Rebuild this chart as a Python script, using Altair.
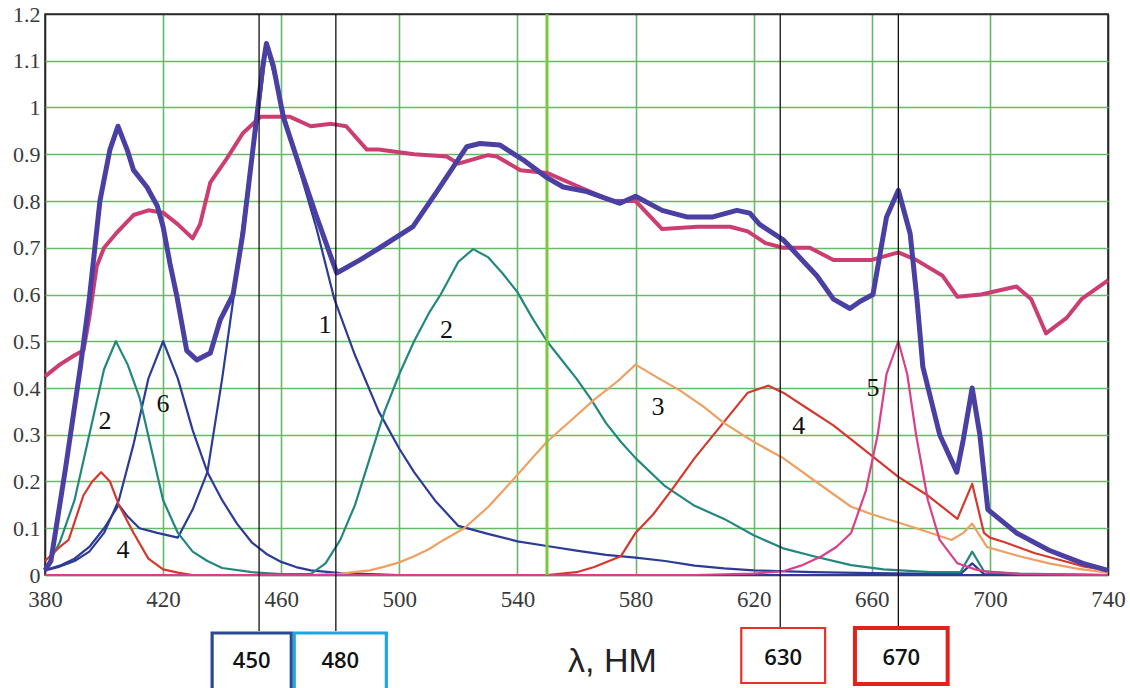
import altair as alt
import pandas as pd

# ---------------- data ----------------
# curve 1 (thin blue)
c1_x = [380, 385, 390, 395, 400, 405, 408, 412, 418, 425, 430, 435, 440, 444, 448, 452, 455, 458, 462, 466,
        472, 478, 485, 493, 500, 505, 512, 520, 530, 540, 550, 560, 570, 580, 590, 600, 610, 620, 640, 660,
        690, 694, 698, 740]
c1_y = [0.01, 0.02, 0.035, 0.06, 0.1, 0.15, 0.125, 0.1, 0.09, 0.08, 0.14, 0.22, 0.42, 0.6, 0.8, 0.97, 1.13, 1.06, 0.96, 0.87,
        0.74, 0.59, 0.47, 0.35, 0.27, 0.22, 0.16, 0.105, 0.088, 0.072, 0.062, 0.052, 0.043, 0.037, 0.03, 0.02, 0.014, 0.01, 0.006, 0.004,
        0.002, 0.025, 0.002, 0.0]

# curve 6 (thin blue)
c6_x = [380, 385, 390, 395, 400, 405, 410, 415, 420, 425, 430, 435, 440, 445, 450, 455, 460, 465, 470, 480, 500, 740]
c6_y = [0.01, 0.018, 0.03, 0.05, 0.09, 0.16, 0.28, 0.42, 0.5, 0.42, 0.31, 0.22, 0.16, 0.11, 0.07, 0.045, 0.028, 0.017, 0.01, 0.004, 0.0, 0.0]

# curve 2 (teal, two humps)
c2_x = [380, 385, 390, 395, 400, 404, 408, 412, 416, 420, 425, 430, 435, 440, 450, 460, 470, 475, 480, 485,
        490, 495, 500, 505, 510, 514, 520, 525, 530, 535, 540, 545, 550, 555, 560, 565, 570, 575, 580, 590,
        600, 610, 620, 630, 641, 653, 664, 680, 690, 694, 698, 710, 740]
c2_y = [0.01, 0.07, 0.16, 0.3, 0.44, 0.5, 0.45, 0.38, 0.27, 0.16, 0.09, 0.05, 0.03, 0.015, 0.006, 0.002, 0.002, 0.025, 0.075, 0.15,
        0.25, 0.35, 0.43, 0.5, 0.56, 0.6, 0.67, 0.697, 0.68, 0.645, 0.605, 0.55, 0.5, 0.46, 0.42, 0.375, 0.325, 0.285, 0.25, 0.19,
        0.148, 0.12, 0.085, 0.057, 0.039, 0.021, 0.012, 0.006, 0.006, 0.05, 0.008, 0.003, 0.0]

# curve 4 (red, two humps)
c4_x = [380, 385, 388, 393, 396, 399, 402, 405, 410, 415, 420, 425, 430, 540, 550, 560, 566, 575, 580, 586,
        592, 600, 609, 618, 625, 630, 639, 647, 659, 669, 679, 689, 694, 698, 700, 705, 715, 725, 732, 740]
c4_y = [0.03, 0.06, 0.075, 0.17, 0.2, 0.22, 0.2, 0.15, 0.09, 0.035, 0.012, 0.005, 0.0, 0.0, 0.0, 0.006, 0.017, 0.04, 0.09, 0.13,
        0.18, 0.25, 0.32, 0.39, 0.405, 0.39, 0.353, 0.32, 0.26, 0.21, 0.17, 0.12, 0.195, 0.09, 0.08, 0.07, 0.047, 0.03, 0.018, 0.01]

# curve 3 (orange)
c3_x = [470, 480, 490, 495, 500, 505, 510, 515, 522, 530, 538, 545, 550, 558, 566, 574, 580, 588, 595, 603,
        610, 620, 630, 641, 653, 660, 670, 680, 687, 691, 694, 699, 710, 720, 730, 740]
c3_y = [0.0, 0.003, 0.01, 0.018, 0.027, 0.04, 0.055, 0.075, 0.1, 0.145, 0.2, 0.25, 0.285, 0.33, 0.375, 0.415, 0.45, 0.42, 0.395, 0.36,
        0.325, 0.285, 0.25, 0.2, 0.146, 0.13, 0.11, 0.09, 0.075, 0.09, 0.11, 0.06, 0.04, 0.025, 0.013, 0.005]

# curve 5 (thin pink)
c5_x = [380, 600, 620, 630, 636, 643, 648, 653, 658, 662, 665, 669, 672, 675, 679, 683, 689, 695, 700, 710, 740]
c5_y = [0.0, 0.0, 0.003, 0.008, 0.02, 0.04, 0.06, 0.09, 0.18, 0.3, 0.43, 0.5, 0.43, 0.3, 0.16, 0.075, 0.025, 0.012, 0.006, 0.002, 0.0]

# thick raspberry curve
cp_x = [380, 385, 390, 393, 395, 397.5, 400, 404, 410, 415, 420, 425, 430, 432.5, 436, 441.5, 447, 453, 458, 463,
        470, 477, 482, 489, 493, 505, 516, 520, 530, 533, 541, 550, 561, 572, 580, 589, 601, 612, 618, 624,
        630, 639, 647, 660, 669, 675, 684, 689, 697, 709, 714, 719, 726, 731, 740]
cp_y = [0.425, 0.45, 0.47, 0.48, 0.55, 0.66, 0.70, 0.73, 0.77, 0.78, 0.775, 0.75, 0.72, 0.75, 0.84, 0.89, 0.945, 0.98, 0.98, 0.98,
        0.96, 0.965, 0.96, 0.91, 0.91, 0.90, 0.895, 0.88, 0.898, 0.895, 0.866, 0.86, 0.83, 0.80, 0.80, 0.74, 0.745, 0.745, 0.735, 0.71,
        0.70, 0.70, 0.674, 0.674, 0.69, 0.674, 0.64, 0.595, 0.60, 0.617, 0.59, 0.517, 0.55, 0.59, 0.63]

# thick blue-violet (sum) curve
cs_x = [380, 382, 387, 392, 395, 398.6, 402, 404.7, 407.8, 410, 414.5, 418, 420, 422.3, 424.7, 428, 431.4, 436, 439.3, 443.7,
        447, 450.4, 453.8, 455, 457.3, 460.7, 466.4, 472, 478.8, 486.7, 493.4, 504.6, 512.7, 522.8, 527.3, 534, 541.9, 550, 555.5, 563.5,
        574.7, 580, 589, 597.3, 606.2, 614.3, 618.7, 622, 630, 641.4, 647, 652.6, 656, 660.4, 665, 669, 673, 675.3, 677.3, 683,
        688.8, 691, 694, 696.6, 699.3, 709, 720, 731.5, 740]
cs_y = [0.01, 0.03, 0.23, 0.445, 0.59, 0.80, 0.91, 0.96, 0.91, 0.866, 0.83, 0.79, 0.745, 0.667, 0.595, 0.48, 0.46, 0.475, 0.545, 0.60,
        0.73, 0.91, 1.09, 1.137, 1.09, 0.98, 0.87, 0.766, 0.646, 0.674, 0.70, 0.745, 0.82, 0.916, 0.923, 0.92, 0.888, 0.85, 0.83, 0.82,
        0.795, 0.81, 0.78, 0.766, 0.766, 0.78, 0.774, 0.75, 0.717, 0.64, 0.59, 0.57, 0.585, 0.60, 0.766, 0.823, 0.73, 0.59, 0.445, 0.30,
        0.22, 0.29, 0.40, 0.30, 0.14, 0.09, 0.053, 0.025, 0.01]

# curve number labels
lab_text = ["1", "2", "6", "2", "4", "3", "4", "5"]
lab_x = [474.8, 400.3, 420.0, 516.0, 406.4, 587.6, 635.3, 660.4]
lab_y = [0.535, 0.33, 0.366, 0.524, 0.053, 0.36, 0.319, 0.40]

# marker lines and boxes
marker_line_x = [452.5, 478.5, 629.0, 669.0]
box_center = [450, 480, 630, 670]
box_label = ["450", "480", "630", "670"]

x_ticks = [380, 420, 460, 500, 540, 580, 620, 660, 700, 740]
y_ticks = [0, 0.1, 0.2, 0.3, 0.4, 0.5, 0.6, 0.7, 0.8, 0.9, 1.0, 1.1, 1.2]
highlight_x = [550]

# ---------------- build tables ----------------
thin = [("1", c1_x, c1_y), ("6", c6_x, c6_y), ("2", c2_x, c2_y), ("4", c4_x, c4_y),
        ("3", c3_x, c3_y), ("5", c5_x, c5_y)]
rows = []
for name, xs_, ys_ in thin:
    for i, (a, b) in enumerate(zip(xs_, ys_)):
        rows.append({"series": name, "nm": a, "v": b, "i": i})
thin_df = pd.DataFrame(rows)
pink_df = pd.DataFrame({"nm": cp_x, "v": cp_y})
sum_df = pd.DataFrame({"nm": cs_x, "v": cs_y})
lab_df = pd.DataFrame({"t": lab_text, "nm": lab_x, "v": lab_y})
mline_df = pd.DataFrame({"nm": marker_line_x})
hl_df = pd.DataFrame({"nm": highlight_x})

W, H = 1063, 561
xs = alt.Scale(domain=[380, 740], nice=False, zero=False)
ys = alt.Scale(domain=[0, 1.2], nice=False, zero=False)

GRID = "#66ba66"
FRAME = "#2a2a2a"
x_grid_color = {"condition": {"test": "datum.value <= 380 || datum.value >= 740", "value": FRAME},
                "value": GRID}
y_grid_color = {"condition": {"test": "datum.value <= 0 || datum.value >= 1.2", "value": FRAME},
                "value": GRID}

x_axis = alt.Axis(values=x_ticks, grid=True, gridColor=x_grid_color, gridWidth=1.6,
                  ticks=False, domain=False, labelFlush=False,
                  labelFont="Liberation Serif", labelFontSize=23, labelColor="#3a3a3a",
                  labelPadding=13,
                  title="λ, НМ", titleX=567, titleY=96, titleAlign="center",
                  titleBaseline="alphabetic", titleFont="Liberation Sans",
                  titleFontSize=34, titleFontWeight="normal", titleColor="#222222")
y_axis = alt.Axis(values=y_ticks, format="~g", grid=True, gridColor=y_grid_color, gridWidth=1.6,
                  ticks=False, domain=False, labelFont="Liberation Serif",
                  labelFontSize=22, labelColor="#3a3a3a", labelPadding=5, title=None)


def X(field):
    return alt.X(field, scale=xs, axis=x_axis)


def Y(field):
    return alt.Y(field, scale=ys, axis=y_axis)


thin_colors = {"1": "#2c3c96", "6": "#2c3c96", "2": "#23877f", "4": "#d4392f",
               "3": "#eea062", "5": "#d8408a"}

thin_layer = alt.Chart(thin_df).mark_line(strokeWidth=2.2, strokeJoin="round").encode(
    x=X("nm:Q"),
    y=Y("v:Q"),
    color=alt.Color("series:N", scale=alt.Scale(domain=list(thin_colors.keys()),
                                                range=list(thin_colors.values())), legend=None),
    detail="series:N",
    order="i:Q",
)

hl_layer = alt.Chart(hl_df).mark_rule(color="#7cc83a", strokeWidth=3).encode(x=X("nm:Q"))

pink_layer = alt.Chart(pink_df).mark_line(color="#cc3e72", strokeWidth=4, strokeJoin="round").encode(
    x=X("nm:Q"), y=Y("v:Q"))

sum_layer = alt.Chart(sum_df).mark_line(color="#4a40a4", strokeWidth=5, strokeJoin="round").encode(
    x=X("nm:Q"), y=Y("v:Q"))

mline_layer = alt.Chart(mline_df).mark_rule(color="#111111", strokeWidth=1.3).encode(
    x=X("nm:Q"), y=alt.value(0), y2=alt.value(617))

lab_layer = alt.Chart(lab_df).mark_text(font="Liberation Serif", fontSize=26, color="#111111",
                                        align="center", baseline="middle").encode(
    x=X("nm:Q"), y=Y("v:Q"), text="t:N")

# box styles (size/colour), keyed by index
box_style = [
    {"half": 13.4, "top": 619, "bottom": 682, "stroke": "#2e4a8e", "sw": 3.2, "ty": 647},
    {"half": 15.6, "top": 619, "bottom": 682, "stroke": "#1ea6e2", "sw": 3.2, "ty": 647},
    {"half": 14.2, "top": 614, "bottom": 669, "stroke": "#e8302a", "sw": 2.2, "ty": 644},
    {"half": 15.7, "top": 614, "bottom": 670, "stroke": "#e2201c", "sw": 4.0, "ty": 644},
]
box_layers = []
for c, lbl, st in zip(box_center, box_label, box_style):
    bdf = pd.DataFrame({"c": [c], "t": [lbl]})
    rect = alt.Chart(bdf).transform_calculate(
        lo=f"datum.c - {st['half']}", hi=f"datum.c + {st['half']}"
    ).mark_rect(fill="white", stroke=st["stroke"], strokeWidth=st["sw"]).encode(
        x=X("lo:Q"), x2="hi:Q",
        y=alt.value(st["top"]), y2=alt.value(st["bottom"]))
    txt = alt.Chart(bdf).mark_text(font="Open Sans", fontSize=22, fontWeight=600, color="#111111",
                                   align="center", baseline="middle").encode(
        x=X("c:Q"), y=alt.value(st["ty"]), text="t:N")
    box_layers += [rect, txt]

chart = alt.layer(thin_layer, hl_layer, pink_layer, sum_layer, mline_layer, lab_layer,
                  *box_layers).properties(
    width=W, height=H,
    autosize=alt.AutoSizeParams(type="none"),
    padding={"left": 45, "top": 14, "right": 22, "bottom": 113},
    background="white",
).configure_view(stroke=FRAME, strokeWidth=1.6)

chart.save("out.html", embed_options={"renderer": "svg", "actions": False})
